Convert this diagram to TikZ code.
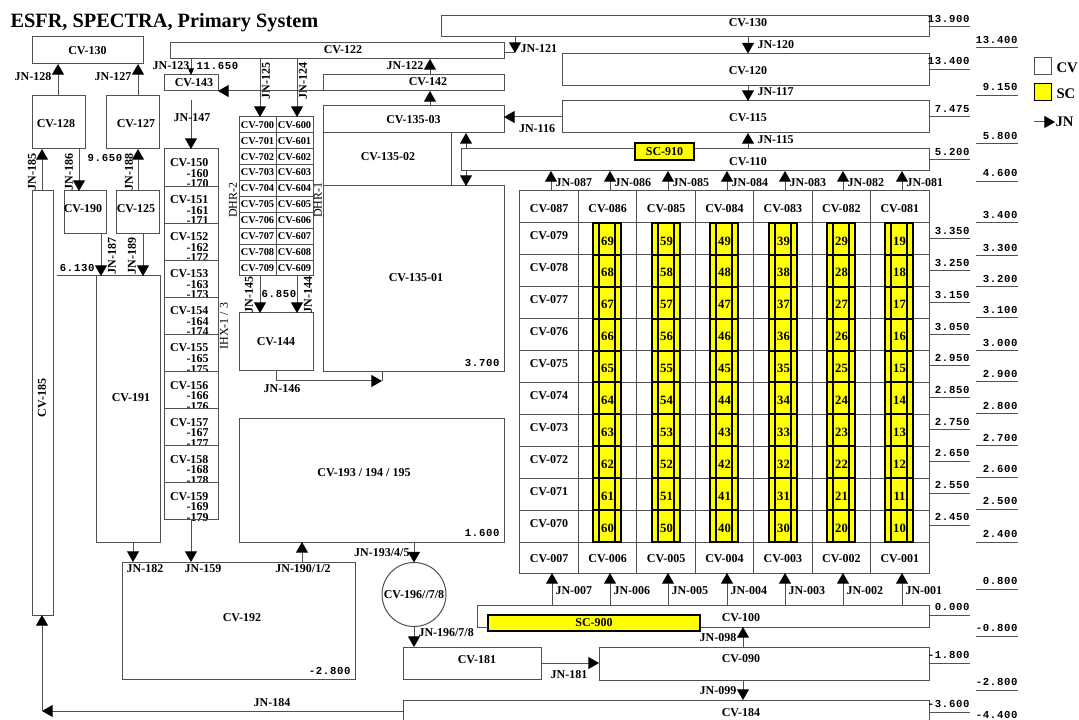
\documentclass[tikz,border=0pt]{standalone}
\usepackage{fontspec}
\setmainfont{Liberation Serif}
\newfontfamily\levelfamily[LetterSpace=6]{Liberation Mono}
\usepackage{tikz}
\usetikzlibrary{positioning,arrows.meta,calc,shapes.geometric}
\definecolor{linegray}{HTML}{505050}
\definecolor{scyellow}{HTML}{FFFF00}

\begin{document}
\begin{tikzpicture}[
  x=.75pt, y=-.75pt, line width=.75pt,
  every node/.style={font=\fontsize{9}{10}\selectfont\bfseries},
  wh/.style 2 args={minimum width=#1*.75pt,minimum height=#2*.75pt},
  cv/.style={draw=linegray,fill=white,inner sep=0pt,outer sep=0pt,align=center},
  sc/.style={draw=black,fill=scyellow,line width=1.5pt,inner sep=0pt,outer sep=0pt},
  cvt/.style={inner sep=0pt},
  small/.style={font=\fontsize{7.8}{9}\selectfont\bfseries},
  stacktxt/.style={inner sep=0pt,anchor=north east,align=right,font=\fontsize{9}{7.9}\selectfont\bfseries},
  jn/.style={inner sep=0pt},
  side/.style={inner sep=0pt,rotate=90,font=\fontsize{9}{10}\selectfont},
  num/.style={inner sep=0pt,font=\levelfamily\bfseries\fontsize{8}{9}\selectfont},
  lev/.style={num,anchor=south east,inner ysep=3pt,text depth=0pt},
  link/.style={draw=linegray,-{Triangle[length=8pt,width=9pt,black]}},
  tiny/.style={draw=linegray,-{Triangle[length=5pt,width=4.5pt,black]}},
  wire/.style={draw=linegray},
  tick/.style={draw=linegray}
]
  \useasboundingbox (0,0) rectangle (1079,720);
  \node[anchor=west,inner sep=0pt,font=\fontsize{15.25}{17}\selectfont\bfseries] (title) at (10,23) {ESFR, SPECTRA, Primary System};

  % left tower
  \node[cv,wh={111}{27}] (cv130a) at (87.5,50.5) {CV-130};
  \node[cv,wh={53}{53}] (cv128) at (58.5,122.5) {};
  \node[cvt] (cv128t) at (56,124) {CV-128};
  \node[cv,wh={53}{53}] (cv127) at (132.5,122.5) {};
  \node[cvt] (cv127t) at (136,124) {CV-127};
  \node[cv,wh={42}{43}] (cv190) at (85,212.5) {};
  \node[cvt] (cv190t) at (83,209) {CV-190};
  \node[cv,wh={43}{43}] (cv125) at (137.5,212.5) {};
  \node[cvt] (cv125t) at (136,209) {CV-125};
  \node[cv,wh={21}{424}] (cv185) at (42.5,403) {};
  \node[cvt,rotate=90] (cv185t) at (42,398) {CV-185};
  \node[cv,wh={64}{266}] (cv191) at (128,409) {};
  \node[cvt] (cv191t) at (131,398) {CV-191};
  \draw[link] (58,0 |- cv128.north) -- (58,0 |- cv130a.south);
  \draw[link] (138,0 |- cv127.north) -- (138,0 |- cv130a.south);
  \draw[link] (42,0 |- cv185.north) -- (42,0 |- cv128.south);
  \draw[link] (79,0 |- cv128.south) -- (79,0 |- cv190.north);
  \draw[link] (138,0 |- cv125.north) -- (138,0 |- cv127.south);
  \draw[link] (101,0 |- cv190.south) -- (101,0 |- cv191.north);
  \draw[link] (143,0 |- cv125.south) -- (143,0 |- cv191.north);
  \node[jn] (jn128) at (33,77) {JN-128};
  \node[jn] (jn127) at (113,77) {JN-127};
  \node[jn,rotate=90] (jn185) at (32,172) {JN-185};
  \node[jn,rotate=90] (jn186) at (69,172) {JN-186};
  \node[jn,rotate=90] (jn188) at (129,172) {JN-188};
  \node[jn,rotate=90] (jn187) at (112,256) {JN-187};
  \node[jn,rotate=90] (jn189) at (132,256) {JN-189};
  \node[num] (lv9650) at (105,158) {9.650};
  \node[lev] (lv6130) at (95,276) {6.130};
  \draw[tick] (lv6130.south west) ++(-2,0) -- (cv191.north west);

  % CV-143 and the IHX stack
  \node[cv,wh={334}{16}] (cv122) at (337,51) {};
  \node[cvt] (cv122t) at (343,50) {CV-122};
  \node[cv,wh={54}{16}] (cv143) at (191,83) {};
  \node[cvt] (cv143t) at (194,83) {CV-143};
  \coordinate (in147) at (191,100);
  \foreach \nn [count=\i from 0] in {0,...,9} {
    \node[cv,wh={54}{37.1}] (cv15\nn) at ({191},{167.5+37.1*\i}) {};
    \node[stacktxt] (cv15\nn t) at ({209},{158+37.1*\i}) {CV-15\nn\\-16\nn\\-17\nn};
  }
  \draw[cv,fill=none,draw=linegray] (cv150.north west) rectangle (cv159.south east);
  \draw[tiny] (191,0 |- cv122.south) -- (191,0 |- cv143.north);
  \draw[link] (in147) -- (191,0 |- cv150.north);
  \node[jn] (jn123) at (171,66) {JN-123};
  \node[num] (lv11650) at (217.5,66) {11.650};
  \node[jn] (jn147) at (192,118) {JN-147};
  \node[side] (ihx) at (224,326) {IHX-1 / 3};

  % DHR table
  \foreach \nn in {0,...,9} {
    \node[cv,small,wh={37}{15.9}] (cv70\nn) at ({257.5},{124.9+15.9*\nn}) {CV-70\nn};
    \node[cv,small,wh={37}{15.9}] (cv60\nn) at ({294.5},{124.9+15.9*\nn}) {CV-60\nn};
  }
  \node[cv,wh={74}{58}] (cv144) at (276,342) {CV-144};
  \draw[link] (260,0 |- cv122.south) -- (260,0 |- cv700.north);
  \draw[link] (297,0 |- cv122.south) -- (297,0 |- cv600.north);
  \draw[link] (260,0 |- cv709.south) -- (260,0 |- cv144.north);
  \draw[link] (297,0 |- cv609.south) -- (297,0 |- cv144.north);
  \node[jn,rotate=90] (jn125) at (266,81) {JN-125};
  \node[jn,rotate=90] (jn124) at (303,81) {JN-124};
  \node[jn,rotate=90] (jn145) at (249,295) {JN-145};
  \node[jn,rotate=90] (jn144) at (308,295) {JN-144};
  \node[num] (lv6850) at (279,294) {6.850};
  \node[side] (dhr2) at (233,200) {DHR-2};
  \node[side] (dhr1) at (318,200) {DHR-1};

  % CV-135 block
  \node[cv,wh={181}{16}] (cv142) at (413.5,83) {};
  \node[cvt] (cv142t) at (428,82) {CV-142};
  \node[cv,wh={181}{27}] (cv13503) at (413.5,119.5) {CV-135-03};
  \node[cv,wh={128}{53}] (cv13502) at (387,159.5) {};
  \node[cvt] (cv13502t) at (388,157) {CV-135-02};
  \node[cv,wh={181}{186}] (cv13501) at (413.5,279) {};
  \node[cvt] (cv13501t) at (416,278) {CV-135-01};
  \node[num,anchor=east] (lv3700) at (500,363) {3.700};
  \draw[link] (cv142.south west) -- (cv143.south east);
  \draw[link] (430,0 |- cv142.north) -- (430,0 |- cv122.south);
  \draw[link] (430,0 |- cv13503.north) -- (430,0 |- cv142.south);
  \node[jn] (jn122) at (405,66) {JN-122};
  \coordinate (turn146) at (382,381);
  \draw[link] (cv144.south) |- (turn146);
  \draw[wire] (turn146) -- (turn146 |- cv13501.south);
  \node[jn] (jn146) at (282,389) {JN-146};

  % lower left
  \node[cv,wh={265}{123}] (cv193) at (371.5,480.5) {};
  \node[cvt] (cv193t) at (364,473) {CV-193 / 194 / 195};
  \node[num,anchor=east] (lv1600) at (500,533) {1.600};
  \node[cv,wh={233}{117}] (cv192) at (238.5,620.5) {};
  \node[cvt] (cv192t) at (242,618) {CV-192};
  \node[num,anchor=east] (lv2800) at (351,671) {-2.800};
  \node[cv,circle,minimum size=64*.75pt] (cv196) at (414,594.5) {CV-196//7/8};
  \node[cv,wh={138}{32}] (cv181) at (472,663) {};
  \node[cvt] (cv181t) at (477,660) {CV-181};
  \draw[link] (133,0 |- cv191.south) -- (133,0 |- cv192.north);
  \draw[link] (191,0 |- cv159.south) -- (191,0 |- cv192.north);
  \draw[link] (302,0 |- cv192.north) -- (302,0 |- cv193.south);
  \draw[link] (414,0 |- cv193.south) -- (cv196.north);
  \draw[link] (cv196.south) -- (414,0 |- cv181.north);
  \node[jn] (jn182) at (145,569) {JN-182};
  \node[jn] (jn159) at (203,569) {JN-159};
  \node[jn] (jn190) at (303,569) {JN-190/1/2};
  \node[jn,anchor=east] (jn193) at (410,553) {JN-193/4/5};
  \node[jn,anchor=west] (jn196) at (418,633) {JN-196/7/8};

  % top right stack
  \node[cv,wh={488}{21}] (cv130) at (685,26.5) {};
  \node[cvt] (cv130t) at (748,23) {CV-130};
  \node[cv,wh={367}{32}] (cv120) at (745.5,69.5) {};
  \node[cvt] (cv120t) at (748,71) {CV-120};
  \node[cv,wh={367}{32}] (cv115) at (745.5,117) {};
  \node[cvt] (cv115t) at (748,118) {CV-115};
  \node[cv,wh={468}{22}] (cv110) at (695,160) {};
  \node[cvt] (cv110t) at (748,162) {CV-110};
  \node[sc,wh={59}{17}] (sc910) at (664.5,151.5) {SC-910};
  \draw[link] (515,0 |- cv130.south) -- (515,53);
  \coordinate (end121) at (515,53);
  \draw[wire] (end121) -- (end121 -| cv122.east);
  \draw[link] (748,0 |- cv130.south) -- (748,0 |- cv120.north);
  \draw[link] (748,0 |- cv120.south) -- (748,0 |- cv115.north);
  \draw[link] (748,0 |- cv110.north) -- (748,0 |- cv115.south);
  \draw[link] (466,0 |- cv110.north) -- (466,0 |- cv13503.south);
  \draw[link] (466,0 |- cv110.south) -- (466,0 |- cv13501.north);
  \draw[link] (562,0 |- cv115.west) -- (504,0 |- cv115.west);
  \node[jn,anchor=west] (jn121) at (520,49) {JN-121};
  \node[jn,anchor=west] (jn120) at (757,45) {JN-120};
  \node[jn,anchor=west] (jn117) at (757,92) {JN-117};
  \node[jn,anchor=west] (jn115) at (757,140) {JN-115};
  \node[jn] (jn116) at (537,129) {JN-116};

  % core grid
  \foreach \col [count=\i from 0] in {087,086,085,084,083,082,081} {
    \node[cv,wh={58.43}{32}] (cv\col) at ({549.2+58.43*\i},207) {};
    \node[cvt] (cv\col t) at ({549.2+58.43*\i},209) {CV-\col};
  }
  \foreach \col [count=\i from 0] in {007,006,005,004,003,002,001} {
    \node[cv,wh={58.43}{31}] (cv\col) at ({549.2+58.43*\i},557.5) {};
    \node[cvt] (cv\col t) at ({549.2+58.43*\i},559) {CV-\col};
  }
  \foreach \rr [count=\j from 0] in {079,078,077,076,075,074,073,072,071,070} {
    \foreach \i in {0,...,6} {
      \node[cv,wh={58.43}{31.9}] (cell\i\j) at ({549.2+58.43*\i},{238.95+31.9*\j}) {};
    }
    \node[cvt] (cv\rr) at (549,{236+31.9*\j}) {CV-\rr};
  }
  \foreach \c/\xx in {1/899,2/841,3/783,4/724,5/666,6/607} {
    \foreach \d in {0,...,9} {
      \node[sc,wh={28}{31.9}] (sc\c\d) at ({\xx},{526.05-31.9*\d}) {};
      \node[cvt,font=\fontsize{9.5}{10}\selectfont\bfseries] (num\c\d) at ({\xx+.5},{528-31.9*\d}) {\c\d};
    }
    \draw[black,line width=1.5pt] ($(sc\c9.north)+(-8,0)$) -- ($(sc\c0.south)+(-8,0)$);
    \draw[black,line width=1.5pt] ($(sc\c9.north)+(8,0)$) -- ($(sc\c0.south)+(8,0)$);
  }
  \foreach \nn/\xx in {087/551,086/610,085/668,084/727,083/785,082/843,081/902} {
    \draw[link] (\xx,0 |- cv\nn.north) -- (\xx,0 |- cv110.south);
    \node[jn,anchor=west] (jn\nn) at (\xx+4,183) {JN-\nn};
  }

  % bottom right
  \node[cv,wh={452}{22}] (cv100) at (703,616) {};
  \node[cvt] (cv100t) at (741,618) {CV-100};
  \node[sc,wh={212}{16}] (sc900) at (594,623) {SC-900};
  \node[cv,wh={330}{33}] (cv090) at (764,663.5) {};
  \node[cvt] (cv090t) at (741,659) {CV-090};
  \node[cv,wh={526}{40}] (cv184) at (666,720) {};
  \node[cvt] (cv184t) at (741,713) {CV-184};
  \foreach \nn/\xx in {007/552,006/610,005/668,004/727,003/785,002/843,001/902} {
    \draw[link] (\xx,0 |- cv100.north) -- (\xx,0 |- cv\nn.south);
    \node[jn,anchor=west] (jn\nn) at (\xx+3,591) {JN-\nn};
  }
  \draw[link] (743,0 |- cv090.north) -- (743,0 |- cv100.south);
  \draw[link] (743,0 |- cv090.south) -- (743,0 |- cv184.north);
  \draw[link] (cv181.east) -- (cv181.east -| cv090.west);
  \coordinate (turn184) at (42,711);
  \draw[link] (403,711) -- (turn184);
  \draw[link] (turn184) -- (cv185.south -| turn184);
  \node[jn] (jn098) at (718,638) {JN-098};
  \node[jn] (jn099) at (718,691) {JN-099};
  \node[jn] (jn181) at (569,675) {JN-181};
  \node[jn] (jn184) at (272,703) {JN-184};

  % level marks next to the boxes
  \foreach \val/\yy [count=\i] in {13.900/27,13.400/69.5,7.475/117,5.200/160,3.350/239,3.250/271,3.150/303,3.050/335,2.950/366,2.850/398,2.750/430,2.650/461,2.550/493,2.450/525,0.000/615,-1.800/663,-3.600/712} {
    \node[lev] (lva\i) at (970,\yy) {\val};
    \draw[tick] (929,0 |- lva\i.south) -- (lva\i.south east);
  }
  % free standing level marks
  \foreach \val/\yy [count=\i] in {13.400/48,9.150/95.5,5.800/144,4.600/181.5,3.400/223,3.300/256,3.200/287,3.100/318,3.000/351,2.900/382,2.800/414,2.700/446,2.600/477,2.500/509,2.400/542,0.800/589,-0.800/636,-2.800/690,-4.400/723} {
    \node[lev] (lvb\i) at (1018,\yy) {\val};
    \draw[tick] (976,0 |- lvb\i.south) -- (lvb\i.south east);
  }

  % legend
  \node[cv,wh={17}{17}] (legcv) at (1042.5,66.5) {};
  \node[sc,line width=.75pt,wh={17}{17}] (legsc) at (1042.5,92.5) {};
  \node[cvt,anchor=west,font=\fontsize{11}{12}\selectfont\bfseries] (legcvt) at (1056,68) {CV};
  \node[cvt,anchor=west,font=\fontsize{11}{12}\selectfont\bfseries] (legsct) at (1056,94) {SC};
  \node[cvt,anchor=west,font=\fontsize{11}{12}\selectfont\bfseries] (legjnt) at (1055,122) {JN};
  \coordinate (legjn) at (1034,122);
  \draw[link] (legjn) -- (legjnt.west);
\end{tikzpicture}
\end{document}
